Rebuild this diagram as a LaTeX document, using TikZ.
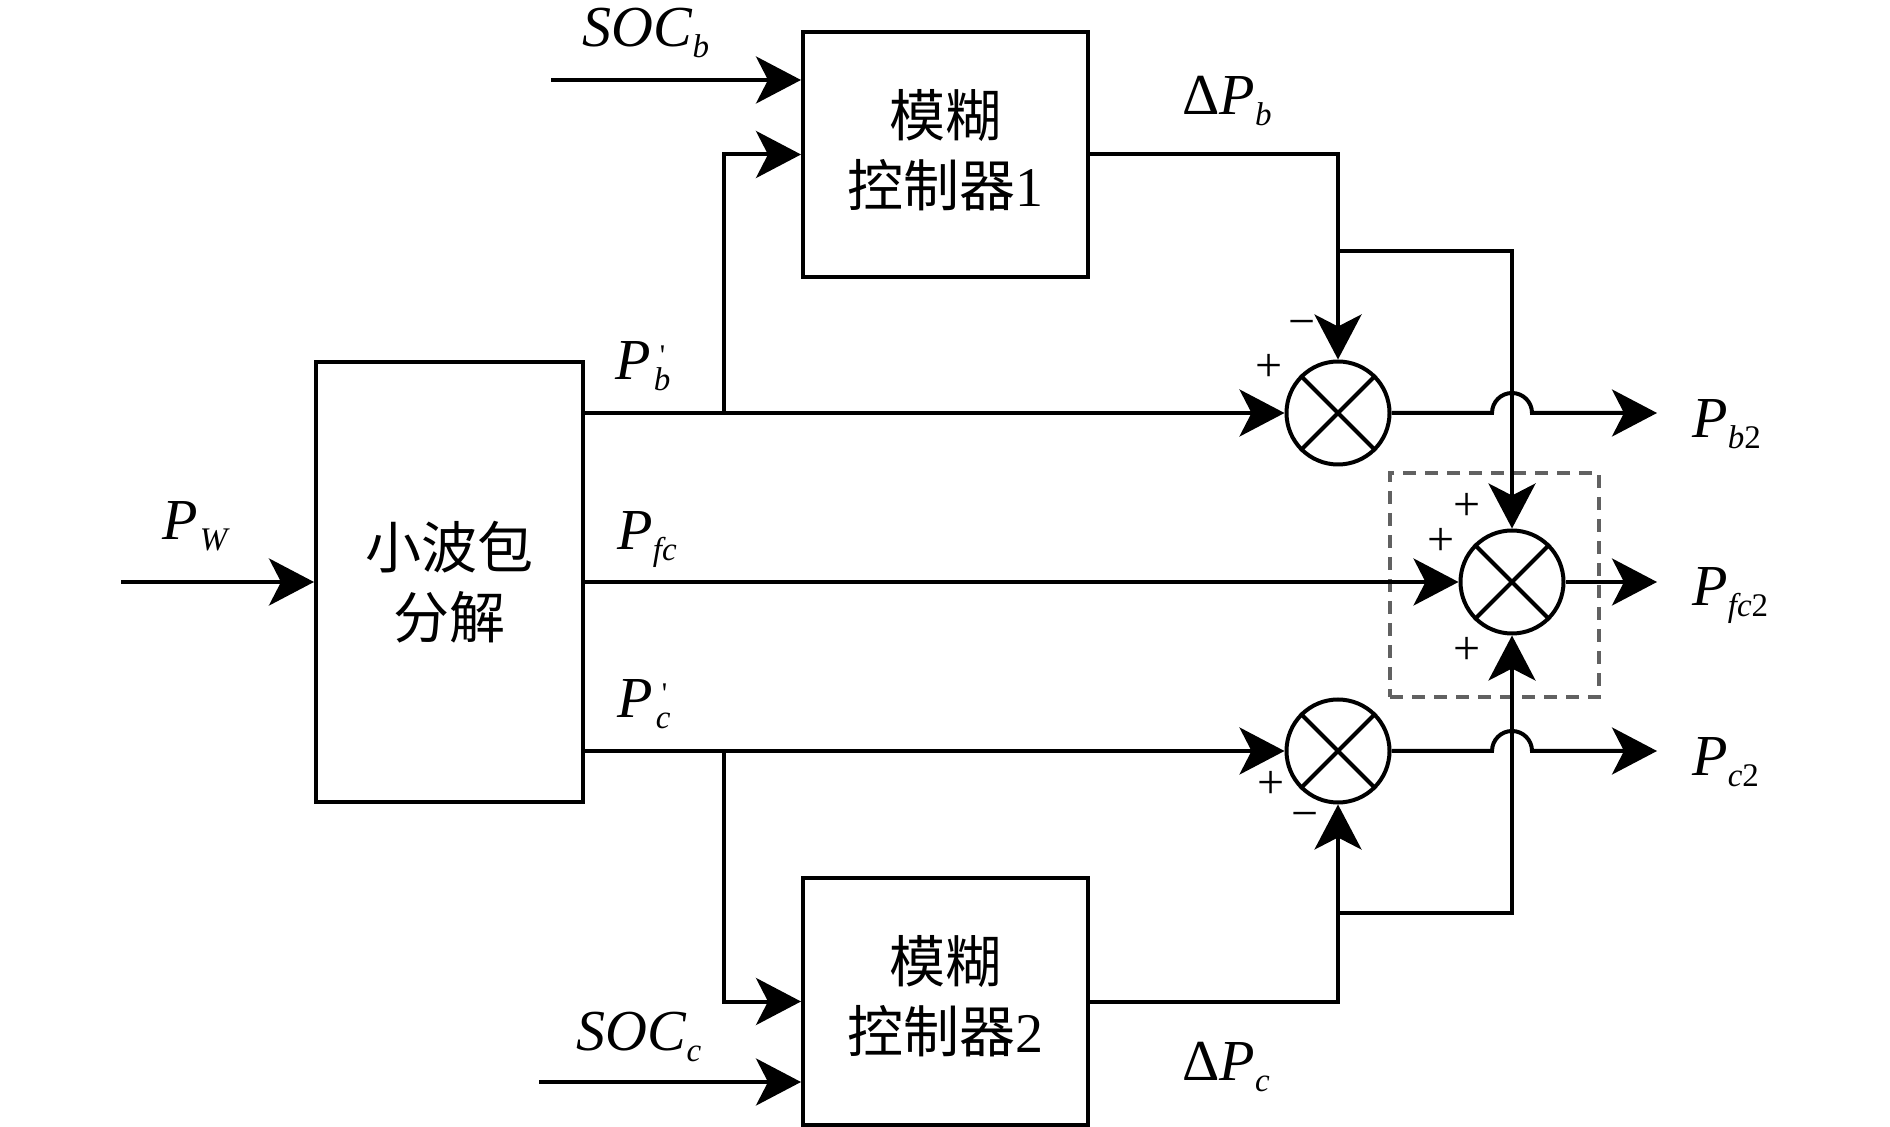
\documentclass[tikz,border=0pt]{standalone}
\usepackage{fontspec}
\setmainfont{Liberation Serif}
\newfontfamily\cjk{Noto Sans CJK SC}
\usetikzlibrary{arrows.meta}
\newcommand\lsub[1]{\raisebox{-5.5pt}{\fontsize{16.5}{16.5}\selectfont #1}}
\newcommand\lprime{\rlap{\hspace{4.5pt}\raisebox{7pt}{\fontsize{15}{15}\selectfont\textquotesingle}}}
\tikzset{
  lw/.style={line width=2pt},
  arr/.style={lw,-{Stealth[length=22.5pt,width=23.5pt,inset=6pt]}},
  blockbox/.style={draw,lw,inner sep=0pt},
  blocktext/.style={inner sep=0pt,align=center,font=\cjk\fontsize{28}{35}\selectfont},
  sumnode/.style={draw,lw,circle,inner sep=0pt,minimum size=51.5pt},
  lbl/.style={inner sep=0pt,anchor=base west,font=\fontsize{29}{29}\selectfont},
  sgn/.style={inner sep=0pt,font=\fontsize{24}{24}\selectfont},
  dashbox/.style={draw=black!62,line width=1.75pt,dash pattern=on 6.5pt off 4.5pt,inner sep=0pt}
}
\begin{document}
\begin{tikzpicture}[x=0.5pt,y=-0.5pt]
\useasboundingbox (0,0) rectangle (1890,1127);
% dashed group box
\node[dashbox,minimum width=104.5pt,minimum height=112pt] (grp) at (1494.5,585) {};
% blocks
\node[blockbox,minimum width=133.5pt,minimum height=220pt] (wp) at (449.5,582) {};
\node[blocktext] (wpt) at (449.5,582) {小波包\\分解};
\node[blockbox,minimum width=142.5pt,minimum height=122.5pt] (fc1) at (945.5,154.5) {};
\node[blocktext] (fc1t) at (945.5,150.5) {模糊\\控制器{\rmfamily 1}};
\node[blockbox,minimum width=142.5pt,minimum height=123.5pt] (fc2) at (945.5,1001.5) {};
\node[blocktext] (fc2t) at (945.5,996.5) {模糊\\控制器{\rmfamily 2}};
% summing junctions
\node[sumnode] (sb) at (1338,413) {};
\node[sumnode] (sf) at (1512,582) {};
\node[sumnode] (sc) at (1338,751) {};
\foreach \s in {sb,sf,sc}{
  \draw[lw] (\s.45) -- (\s.225);
  \draw[lw] (\s.135) -- (\s.315);
}
% coordinates
\coordinate (pw) at (121,582);
\coordinate (socb) at (551,80);
\coordinate (socc) at (539,1082);
\coordinate (jb) at (724,413);
\coordinate (jc) at (724,751);
\coordinate (kb) at (1338,251);
\coordinate (kc) at (1338,913);
\coordinate (hb) at (1492,413);
\coordinate (hc) at (1492,751);
\coordinate (ob) at (1657,413);
\coordinate (of) at (1657,582);
\coordinate (oc) at (1657,751);
% connectors
\draw[arr] (pw) -- (wp.west);
\draw[arr] (wp.east |- sb) -- (sb.west);
\draw[arr] (wp.east) -- (sf.west);
\draw[arr] (wp.east |- sc) -- (sc.west);
\draw[arr] (jb) |- (fc1.west);
\draw[arr] (jc) |- (fc2.west);
\draw[arr] (socb) -- (socb -| fc1.west);
\draw[arr] (socc) -- (socc -| fc2.west);
\draw[arr] (fc1.east) -| (sb.north);
\draw[arr] (fc2.east) -| (sc.south);
\draw[arr] (kb) -| (sf.north);
\draw[arr] (kc) -| (sf.south);
\draw[arr] (sb.east) -- (hb) arc[start angle=180,end angle=0,radius=10pt] -- (ob);
\draw[arr] (sc.east) -- (hc) arc[start angle=180,end angle=0,radius=10pt] -- (oc);
\draw[arr] (sf.east) -- (of);
% labels
\node[lbl] (lsocb) at (582,47) {\textit{SOC}\lsub{\textit{b}}};
\node[lbl] (ldpb) at (1182,115) {Δ\textit{P}\lsub{\textit{b}}};
\node[lbl] (lpb) at (615,380) {\textit{P}\lprime\lsub{\hspace{1.5pt}\textit{b}}};
\node[lbl] (lpw) at (162,540) {\textit{P}\lsub{\hspace{1pt}\textit{W}}};
\node[lbl] (lpfc) at (617,550) {\textit{P}\lsub{\textit{fc}}};
\node[lbl] (lpc) at (617,718) {\textit{P}\lprime\lsub{\hspace{1.5pt}\textit{c}}};
\node[lbl] (lsocc) at (576,1050) {\textit{SOC}\lsub{\textit{c}}};
\node[lbl] (ldpc) at (1182,1080) {Δ\textit{P}\lsub{\textit{c}}};
\node[lbl] (lpb2) at (1692,438) {\textit{P}\lsub{\textit{b}2}};
\node[lbl] (lpfc2) at (1692,606) {\textit{P}\lsub{\textit{fc}2}};
\node[lbl] (lpc2) at (1692,776) {\textit{P}\lsub{\textit{c}2}};
% signs
\node[sgn] (sg1) at (1302,329) {−};
\node[sgn] (sg2) at (1269,368) {+};
\node[sgn] (sg3) at (1467,507) {+};
\node[sgn] (sg4) at (1441,542) {+};
\node[sgn] (sg5) at (1467,651) {+};
\node[sgn] (sg6) at (1271,785) {+};
\node[sgn] (sg7) at (1305,821) {−};
\end{tikzpicture}
\end{document}
